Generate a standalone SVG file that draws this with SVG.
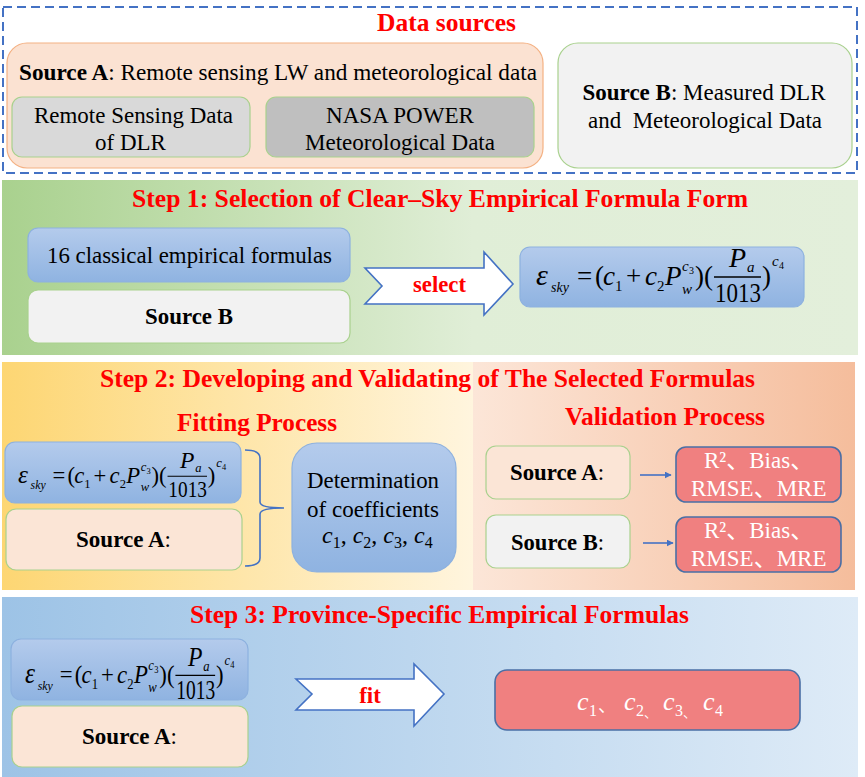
<svg xmlns="http://www.w3.org/2000/svg" width="865" height="777" viewBox="0 0 865 777">
<defs>
<style>
text{font-family:"Liberation Serif","Times New Roman","Noto Sans CJK SC",serif;fill:#000}
.t{font-size:25.5px;font-weight:bold;fill:#ff0000}
.b{font-size:23px}
.bd{font-weight:bold}
.w{fill:#ffffff}
.i{font-style:italic}
.blue{fill:url(#gBlue);stroke:#8db1df;stroke-width:1.2}
.peach{fill:#fbe5d6;stroke:#a9d18e;stroke-width:1.2}
.gray{fill:#f2f2f2;stroke:#a9d18e;stroke-width:1.2}
.red{fill:#f08080;stroke:#4a6fa5;stroke-width:1.6}
.arr{fill:#ffffff;stroke:#4472c4;stroke-width:1.6}
.con{stroke:#4472c4;stroke-width:1.6;fill:none}
</style>
<linearGradient id="gBlue" x1="0" y1="0" x2="0" y2="1"><stop offset="0" stop-color="#b4cbec"/><stop offset="1" stop-color="#8fb3e1"/></linearGradient>
<linearGradient id="gS1" x1="0" y1="0" x2="1" y2="0"><stop offset="0" stop-color="#a9d18e"/><stop offset="0.55" stop-color="#e0eed7"/><stop offset="1" stop-color="#e3efdb"/></linearGradient>
<linearGradient id="gS2a" x1="0" y1="0" x2="1" y2="0"><stop offset="0" stop-color="#fdd673"/><stop offset="1" stop-color="#fff5de"/></linearGradient>
<linearGradient id="gS2b" x1="0" y1="0" x2="1" y2="0"><stop offset="0" stop-color="#fce6d8"/><stop offset="1" stop-color="#f5bd9c"/></linearGradient>
<linearGradient id="gS3" x1="0" y1="0" x2="1" y2="0"><stop offset="0" stop-color="#9dc3e6"/><stop offset="1" stop-color="#deebf7"/></linearGradient>
<marker id="ah" viewBox="0 0 10 10" refX="9" refY="5" markerWidth="7" markerHeight="7" orient="auto" markerUnits="userSpaceOnUse"><path d="M0,0 L10,5 L0,10 z" fill="#4472c4"/></marker>
<g id="formula">
<text x="0" y="0" font-size="30" class="i">ε</text>
<text x="15" y="7" font-size="14" class="i">sky</text>
<text x="41" y="0" font-size="27">=</text>
<text x="59" y="0" font-size="27">(</text>
<text x="67" y="0" font-size="27" class="i">c</text>
<text x="79" y="6" font-size="15">1</text>
<text x="90" y="0" font-size="27">+</text>
<text x="109" y="0" font-size="27" class="i">c</text>
<text x="121" y="6" font-size="15">2</text>
<text x="129" y="0" font-size="27" class="i">P</text>
<text x="146" y="-14" font-size="15" class="i">c</text>
<text x="153" y="-11" font-size="10">3</text>
<text x="146" y="9" font-size="15" class="i">w</text>
<text x="159" y="0" font-size="27">)(</text>
<text x="193" y="-18" font-size="28" class="i">P</text>
<text x="211" y="-13" font-size="15" class="i">a</text>
<line x1="178" y1="-8" x2="225" y2="-8" stroke="#000" stroke-width="1.3"/>
<text x="179" y="17" font-size="28" textLength="46" lengthAdjust="spacingAndGlyphs">1013</text>
<text x="226" y="0" font-size="27">)</text>
<text x="236" y="-19" font-size="15" class="i">c</text>
<text x="243" y="-16" font-size="10">4</text>
</g>
</defs>

<rect width="865" height="777" fill="#ffffff"/>

<!-- Data sources -->
<g id="data-sources">
<rect x="3" y="7" width="854" height="166" fill="none" stroke="#4472c4" stroke-width="2" stroke-dasharray="9 5"/>
<text x="446.5" y="31" class="t" text-anchor="middle" font-size="25.5" textLength="139" lengthAdjust="spacingAndGlyphs">Data sources</text>
</g>
<g id="source-a">
<rect x="7" y="43" width="536" height="125" rx="20" fill="#fbe2d2" stroke="#f4b183" stroke-width="1.2"/>
<text x="19" y="80" class="b" textLength="518" lengthAdjust="spacingAndGlyphs"><tspan class="bd">Source A</tspan>: Remote sensing LW and meteorological data</text>
</g>
<g id="rs-dlr">
<rect x="12" y="97" width="238" height="60" rx="10" fill="#d9d9d9" stroke="#a9d18e" stroke-width="1.2"/>
<text x="133.5" y="123" class="b" text-anchor="middle" textLength="199" lengthAdjust="spacingAndGlyphs">Remote Sensing Data</text>
<text x="130.5" y="150" class="b" text-anchor="middle">of DLR</text>
</g>
<g id="nasa-power">
<rect x="266" y="97" width="268" height="60" rx="10" fill="#bfbfbf" stroke="#a9d18e" stroke-width="1.2"/>
<text x="400" y="123" class="b" text-anchor="middle" textLength="148" lengthAdjust="spacingAndGlyphs">NASA POWER</text>
<text x="400" y="150" class="b" text-anchor="middle" textLength="190" lengthAdjust="spacingAndGlyphs">Meteorological Data</text>
</g>
<g id="source-b">
<rect x="558" y="43" width="294" height="125" rx="20" fill="#f2f2f2" stroke="#a9d18e" stroke-width="1.2"/>
<text x="704" y="100" class="b" text-anchor="middle" textLength="243" lengthAdjust="spacingAndGlyphs"><tspan class="bd">Source B</tspan>: Measured DLR</text>
<text x="705" y="128" class="b" text-anchor="middle" xml:space="preserve" textLength="234" lengthAdjust="spacingAndGlyphs">and  Meteorological Data</text>
</g>

<!-- Step 1 -->
<g id="step1">
<rect x="2" y="180" width="856" height="175" fill="url(#gS1)"/>
<text x="440" y="207" class="t" text-anchor="middle" textLength="616" lengthAdjust="spacingAndGlyphs">Step 1: Selection of Clear–Sky Empirical Formula Form</text>
</g>
<g id="s1-classical">
<rect x="28" y="228" width="322" height="54" rx="10" class="blue"/>
<text x="189.5" y="263" class="b" text-anchor="middle" textLength="285" lengthAdjust="spacingAndGlyphs">16 classical empirical formulas</text>
</g>
<g id="s1-sourceb">
<rect x="28" y="290" width="322" height="53" rx="10" class="gray"/>
<text x="189" y="324" class="b bd" text-anchor="middle" textLength="88" lengthAdjust="spacingAndGlyphs">Source B</text>
</g>
<g id="s1-formula">
<rect x="520" y="247" width="284" height="60" rx="10" class="blue"/>
<use href="#formula" transform="translate(536,285)"/>
</g>

<!-- Step 2 -->
<g id="step2">
<rect x="2" y="362" width="471" height="228" fill="url(#gS2a)"/>
<rect x="473" y="362" width="382" height="228" fill="url(#gS2b)"/>
<text x="100" y="387" class="t" textLength="655" lengthAdjust="spacingAndGlyphs">Step 2: Developing and Validating of The Selected Formulas</text>
<text x="257" y="431" class="t" text-anchor="middle" textLength="160" lengthAdjust="spacingAndGlyphs">Fitting Process</text>
<text x="665" y="425" class="t" text-anchor="middle" textLength="200" lengthAdjust="spacingAndGlyphs">Validation Process</text>
</g>
<g id="s2-formula">
<rect x="5" y="442" width="236" height="61" rx="10" class="blue"/>
<use href="#formula" transform="translate(18,483) scale(0.84)"/>
</g>
<g id="s2-sourcea">
<rect x="6" y="509" width="236" height="61" rx="10" class="peach"/>
<text x="76" y="547" class="b" textLength="95" lengthAdjust="spacingAndGlyphs"><tspan class="bd">Source A</tspan>:</text>
</g>
<g id="s2-coeff">
<rect x="292" y="443" width="164" height="129" rx="25" class="blue"/>
<text x="373" y="488" class="b" text-anchor="middle" textLength="132" lengthAdjust="spacingAndGlyphs">Determination</text>
<text x="373" y="517" class="b" text-anchor="middle" textLength="132" lengthAdjust="spacingAndGlyphs">of coefficients</text>
<text x="322" y="543" font-size="24"><tspan class="i">c</tspan><tspan font-size="16" dy="5">1</tspan><tspan dy="-5">, </tspan><tspan class="i">c</tspan><tspan font-size="16" dy="5">2</tspan><tspan dy="-5">, </tspan><tspan class="i">c</tspan><tspan font-size="16" dy="5">3</tspan><tspan dy="-5">, </tspan><tspan class="i">c</tspan><tspan font-size="16" dy="5">4</tspan></text>
</g>
<g id="v-sourcea">
<rect x="486" y="446" width="144" height="53" rx="10" class="peach"/>
<text x="510" y="480" class="b" textLength="94" lengthAdjust="spacingAndGlyphs"><tspan class="bd">Source A</tspan>:</text>
</g>
<g id="v-sourceb">
<rect x="486" y="515" width="144" height="53" rx="10" class="gray"/>
<text x="511" y="550" class="b" textLength="93" lengthAdjust="spacingAndGlyphs"><tspan class="bd">Source B</tspan>:</text>
</g>
<g id="v-metrics-a">
<rect x="676" y="447" width="165" height="55" rx="10" class="red"/>
<text x="704" y="468" class="b w">R²、Bias、</text>
<text x="691" y="496" class="b w">RMSE、MRE</text>
</g>
<g id="v-metrics-b">
<rect x="676" y="517" width="165" height="55" rx="10" class="red"/>
<text x="704" y="538" class="b w">R²、Bias、</text>
<text x="691" y="566" class="b w">RMSE、MRE</text>
</g>

<!-- Step 3 -->
<g id="step3">
<rect x="2" y="597" width="856" height="180" fill="url(#gS3)"/>
<text x="439.5" y="623" class="t" text-anchor="middle" textLength="499" lengthAdjust="spacingAndGlyphs">Step 3: Province-Specific Empirical Formulas</text>
</g>
<g id="s3-formula">
<rect x="11" y="639" width="237" height="61" rx="10" class="blue"/>
<use href="#formula" transform="translate(25,683) scale(0.845,0.95)"/>
</g>
<g id="s3-sourcea">
<rect x="12" y="706" width="236" height="61" rx="10" class="peach"/>
<text x="82" y="744" class="b" textLength="95" lengthAdjust="spacingAndGlyphs"><tspan class="bd">Source A</tspan>:</text>
</g>
<g id="s3-result">
<rect x="495" y="670" width="305" height="60" rx="12" class="red"/>
<text x="577" y="710" font-size="26" class="w i">c</text>
<text x="589" y="716" font-size="16" class="w">1</text>
<text x="598" y="712" font-size="18" class="w">、</text>
<text x="624" y="710" font-size="26" class="w i">c</text>
<text x="636" y="716" font-size="16" class="w">2</text>
<text x="644" y="717" font-size="13" class="w">、</text>
<text x="663" y="710" font-size="26" class="w i">c</text>
<text x="675" y="716" font-size="16" class="w">3</text>
<text x="683" y="717" font-size="13" class="w">、</text>
<text x="703" y="710" font-size="26" class="w i">c</text>
<text x="715" y="716" font-size="16" class="w">4</text>
</g>

<!-- Connectors -->
<g id="connectors">
<g id="arrow-select">
<polygon points="365,268 484,268 484,252 513,284 484,315 484,304 365,304 382,286" class="arr"/>
<text x="439.5" y="292" class="b bd" text-anchor="middle" style="fill:#ff0000" textLength="53" lengthAdjust="spacingAndGlyphs">select</text>
</g>
<path d="M245,450 Q260,450 260,458 L260,502 Q260,508 284,508 Q260,508 260,514 L260,558 Q260,566 245,566" class="con" stroke-width="2"/>
<line x1="640" y1="475" x2="671" y2="475" class="con" marker-end="url(#ah)"/>
<line x1="643" y1="543" x2="673" y2="543" class="con" marker-end="url(#ah)"/>
<g id="arrow-fit">
<polygon points="296,679 414,679 414,664 444,694 414,726 414,710 296,710 312,694" class="arr"/>
<text x="370" y="703" class="b bd" text-anchor="middle" style="fill:#ff0000">fit</text>
</g>
</g>
</svg>
